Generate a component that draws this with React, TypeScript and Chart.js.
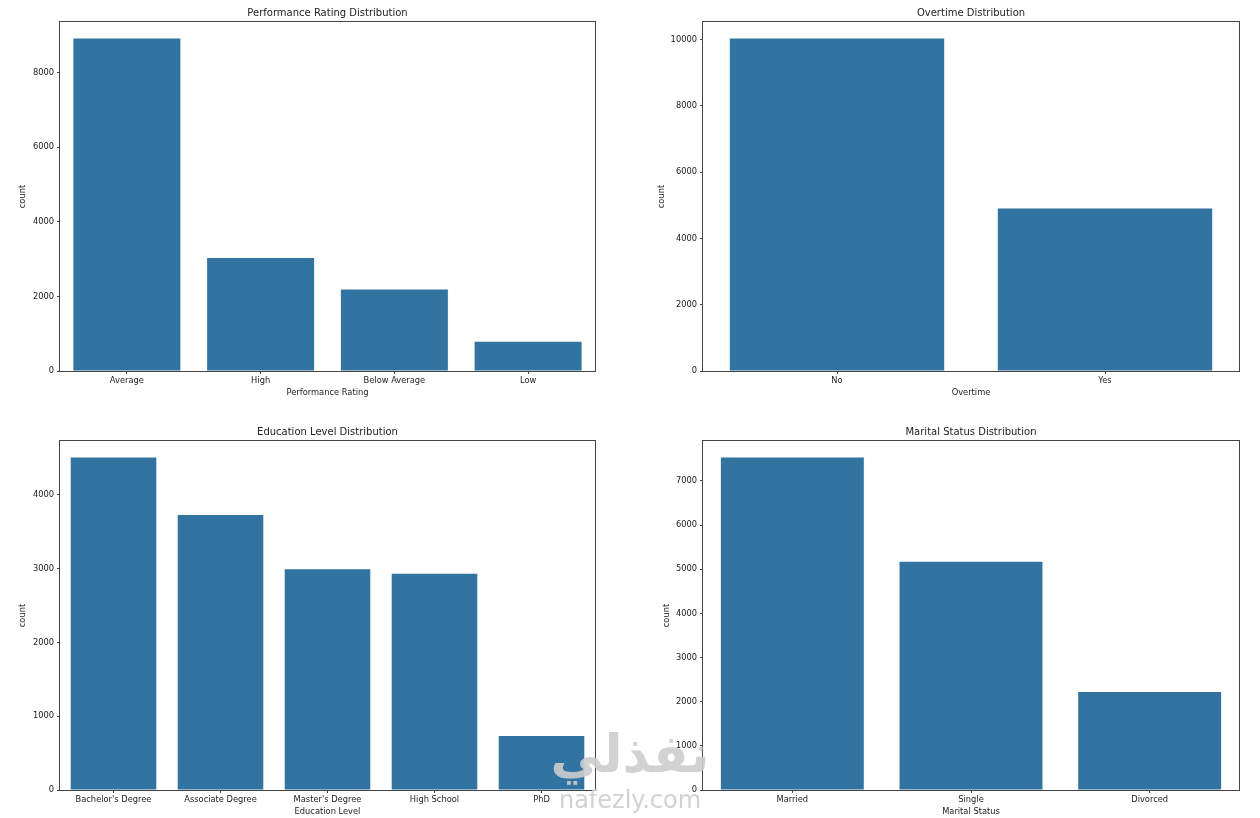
import React, { useEffect, useRef } from "react";
import { Chart, registerables } from "chart.js";

Chart.register(...registerables);

// ---- Data ----
const perfLabels = ["Average", "High", "Below Average", "Low"];
const perfCounts = [8911, 3027, 2188, 786];
const perfTicks = [0, 2000, 4000, 6000, 8000];

const overtimeLabels = ["No", "Yes"];
const overtimeCounts = [10030, 4905];
const overtimeTicks = [0, 2000, 4000, 6000, 8000, 10000];

const eduLabels = ["Bachelor's Degree", "Associate Degree", "Master's Degree", "High School", "PhD"];
const eduCounts = [4506, 3729, 2993, 2930, 731];
const eduTicks = [0, 1000, 2000, 3000, 4000];

const maritalLabels = ["Married", "Single", "Divorced"];
const maritalCounts = [7526, 5166, 2217];
const maritalTicks = [0, 1000, 2000, 3000, 4000, 5000, 6000, 7000];

const BAR_COLOR = "#3274a1";
const TEXT_COLOR = "#222";
const LINE_COLOR = "#444";
const FONT = "'DejaVu Sans', sans-serif";

type Panel = {
  title: string;
  xTitle: string;
  labels: string[];
  counts: number[];
  ticks: number[];
  left: number;
  top: number;
  width: number;
  height: number;
  yAxisWidth: number;
  yTitlePad: number;
};

const panels: Panel[] = [
  { title: "Performance Rating Distribution", xTitle: "Performance Rating", labels: perfLabels, counts: perfCounts, ticks: perfTicks, left: 0, top: 0, width: 600, height: 399, yAxisWidth: 60, yTitlePad: 18 },
  { title: "Overtime Distribution", xTitle: "Overtime", labels: overtimeLabels, counts: overtimeCounts, ticks: overtimeTicks, left: 640, top: 0, width: 604, height: 399, yAxisWidth: 63, yTitlePad: 17 },
  { title: "Education Level Distribution", xTitle: "Education Level", labels: eduLabels, counts: eduCounts, ticks: eduTicks, left: 0, top: 419, width: 600, height: 399, yAxisWidth: 60, yTitlePad: 18 },
  { title: "Marital Status Distribution", xTitle: "Marital Status", labels: maritalLabels, counts: maritalCounts, ticks: maritalTicks, left: 640, top: 419, width: 604, height: 399, yAxisWidth: 63, yTitlePad: 22 },
];

const framePlugin = {
  id: "frame",
  afterDraw(chart: any) {
    const { ctx, chartArea: a } = chart;
    ctx.save();
    ctx.strokeStyle = LINE_COLOR;
    ctx.lineWidth = 1;
    ctx.strokeRect(Math.round(a.left) - 0.5, Math.round(a.top) - 0.5, Math.round(a.right - a.left) + 1, Math.round(a.bottom - a.top) + 1);
    ctx.restore();
  },
};

function BarPanel({ p }: { p: Panel }) {
  const ref = useRef<HTMLCanvasElement | null>(null);
  useEffect(() => {
    if (!ref.current) return;
    const yMax = Math.max(...p.counts) * 1.05;
    const chart = new Chart(ref.current, {
      type: "bar",
      data: {
        labels: p.labels,
        datasets: [
          {
            data: p.counts,
            backgroundColor: BAR_COLOR,
            borderWidth: 0,
            barPercentage: 0.8,
            categoryPercentage: 1.0,
          },
        ],
      },
      options: {
        responsive: false,
        animation: false,
        devicePixelRatio: 1,
        layout: { padding: { left: 0, right: 5, top: 0, bottom: 0 } },
        plugins: {
          legend: { display: false },
          tooltip: { enabled: false },
          title: {
            display: true,
            text: p.title,
            fullSize: false,
            color: TEXT_COLOR,
            font: { family: FONT, size: 10, weight: "normal", lineHeight: 1.2 },
            padding: { top: 7, bottom: 3 },
          },
        },
        scales: {
          x: {
            type: "category",
            offset: true,
            grid: { display: true, drawOnChartArea: false, drawTicks: true, tickLength: 3, tickColor: LINE_COLOR, offset: false },
            border: { display: false },
            ticks: { color: TEXT_COLOR, padding: 2, autoSkip: false, maxRotation: 0, font: { family: FONT, size: 8.3 } },
            title: { display: true, text: p.xTitle, color: TEXT_COLOR, font: { family: FONT, size: 8.3, lineHeight: 1.2 }, padding: { top: 0, bottom: 1.3 } },
            afterFit: (scale: any) => { scale.height = 28; },
          },
          y: {
            type: "linear",
            min: 0,
            max: yMax,
            grid: { display: true, drawOnChartArea: false, drawTicks: true, tickLength: 3, tickColor: LINE_COLOR },
            border: { display: false },
            ticks: {
              color: TEXT_COLOR,
              padding: 3,
              autoSkip: false,
              font: { family: FONT, size: 8.3 },
              callback: (v: any) => String(v),
            },
            afterBuildTicks: (scale: any) => {
              scale.ticks = p.ticks.map((v) => ({ value: v }));
            },
            title: { display: true, text: "count", color: TEXT_COLOR, font: { family: FONT, size: 8.3, lineHeight: 1.2 }, padding: { top: p.yTitlePad, bottom: 0 } },
            afterFit: (scale: any) => { scale.width = p.yAxisWidth; },
          },
        },
      },
      plugins: [framePlugin],
    });
    return () => chart.destroy();
  }, [p]);
  return (
    <canvas
      ref={ref}
      width={p.width}
      height={p.height}
      style={{ position: "absolute", left: p.left, top: p.top, width: p.width, height: p.height }}
    />
  );
}

export default function App() {
  useEffect(() => {
    document.body.style.margin = "0";
  }, []);
  return (
    <div style={{ position: "absolute", left: 0, top: 0, width: 1260, height: 818, background: "#fff", overflow: "hidden" }}>
      {panels.map((p) => (
        <BarPanel key={p.title} p={p} />
      ))}
      <div
        style={{
          position: "absolute",
          left: 500,
          top: 722,
          width: 260,
          textAlign: "center",
          fontFamily: "'DejaVu Sans', sans-serif",
          fontWeight: "bold",
          fontSize: 52,
          lineHeight: "64px",
          color: "rgba(205,205,205,0.9)",
          direction: "rtl",
        }}
      >
        نفذلي
      </div>
      <div
        style={{
          position: "absolute",
          left: 530,
          top: 785,
          width: 200,
          textAlign: "center",
          fontFamily: "'DejaVu Sans', sans-serif",
          fontSize: 24,
          lineHeight: "30px",
          color: "rgba(205,205,205,0.9)",
        }}
      >
        nafezly.com
      </div>
    </div>
  );
}
